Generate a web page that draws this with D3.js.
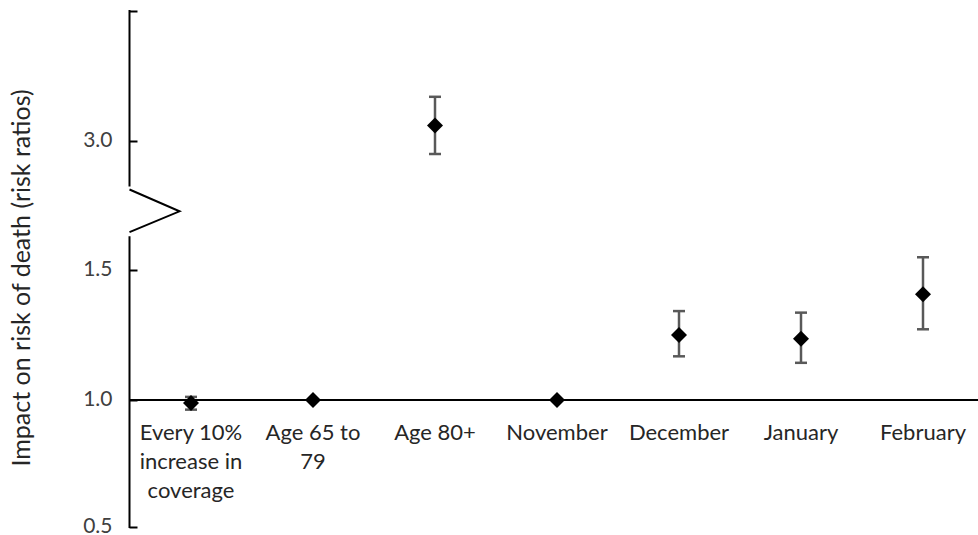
<!DOCTYPE html>
<html><head><meta charset="utf-8">
<script src="https://cdn.jsdelivr.net/npm/d3@7"></script>
<style>body{margin:0;background:#fff;} svg{display:block;}</style>
</head><body><svg id="c" width="978" height="535"></svg>
<script>
// ---- data ----
const categories = ["Every 10% increase in coverage", "Age 65 to 79", "Age 80+", "November", "December", "January", "February"];
const categoryLines = [["Every 10%", "increase in", "coverage"], ["Age 65 to", "79"], ["Age 80+"], ["November"], ["December"], ["January"], ["February"]];
const estimates = [0.988, 1.0, 3.06, 1.0, 1.25, 1.236, 1.407];
const ciLower  = [0.962, null, 2.95, null, 1.168, 1.143, 1.272];
const ciUpper  = [1.012, null, 3.17, null, 1.342, 1.336, 1.549];
const lowerTicks = [0.5, 1.0, 1.5];
const lowerTickLabels = ["0.5", "1.0", "1.5"];
const upperTicks = [3.0, 3.5];
const upperTickLabels = ["3.0", ""];
const yTitle = "Impact on risk of death (risk ratios)";

// ---- layout ----
const svg = d3.select("#c");
const font = "Lato, 'Open Sans', sans-serif";
const axisX = 129.5;

const x = d3.scaleBand().domain(categories).range([130, 984]);
const yLow = d3.scaleLinear().domain([0.5, 1.0, 1.5]).range([527, 400, 270]);
const yHigh = d3.scaleLinear().domain([3.0, 3.5]).range([141, 11]);
const y = v => (v > 2.2 ? yHigh(v) : yLow(v));
const lowTop = yLow(1.63), highBottom = yHigh(2.825);

// axes (ticks inward, labels left)
function drawAxis(scale, ticks, labels) {
  const ax = d3.axisLeft(scale).tickValues(ticks).tickSizeInner(-8).tickSizeOuter(0).tickPadding(17)
    .tickFormat((d, i) => labels[i]);
  const g = svg.append("g").attr("transform", `translate(${axisX},0)`).call(ax);
  g.select(".domain").remove();
  g.selectAll(".tick line").attr("stroke", "#000").attr("stroke-width", 2);
  g.selectAll(".tick text").attr("font-family", font).attr("font-size", 21).attr("fill", "#404040")
    .attr("dy", "0.25em");
}
drawAxis(yLow, lowerTicks, lowerTickLabels);
drawAxis(yHigh, upperTicks, upperTickLabels);

// axis segments with break
svg.append("line").attr("x1", axisX).attr("x2", axisX).attr("y1", yLow(0.5) + 1).attr("y2", lowTop)
  .attr("stroke", "#000").attr("stroke-width", 2);
svg.append("line").attr("x1", axisX).attr("x2", axisX).attr("y1", highBottom).attr("y2", yHigh(3.5) - 1)
  .attr("stroke", "#000").attr("stroke-width", 2);
const midBreak = (lowTop + highBottom) / 2;
svg.append("path")
  .attr("d", d3.line()([[axisX, lowTop - 4], [axisX + 50, midBreak], [axisX, highBottom + 3]]))
  .attr("fill", "none").attr("stroke", "#000").attr("stroke-width", 2);

// x baseline at 1.0
svg.append("line").attr("x1", axisX).attr("x2", 978).attr("y1", yLow(1.0)).attr("y2", yLow(1.0))
  .attr("stroke", "#000").attr("stroke-width", 2);

// category labels
const labG = svg.append("g");
categories.forEach((c, i) => {
  const t = labG.append("text").attr("x", x(c) + x.bandwidth() / 2).attr("y", 440)
    .attr("text-anchor", "middle").attr("font-family", font).attr("font-size", 22).attr("fill", "#262626");
  categoryLines[i].forEach((ln, j) => {
    t.append("tspan").attr("x", x(c) + x.bandwidth() / 2).attr("dy", j === 0 ? 0 : 29).text(ln);
  });
});

// y title
svg.append("text").attr("transform", `translate(30,278) rotate(-90)`)
  .attr("text-anchor", "middle").attr("font-family", font).attr("font-size", 25).attr("fill", "#262626")
  .text(yTitle);

// error bars
const eb = svg.append("g").attr("stroke", "#595959").attr("stroke-width", 2.5);
categories.forEach((c, i) => {
  if (ciLower[i] == null) return;
  const cx = x(c) + x.bandwidth() / 2;
  eb.append("line").attr("x1", cx).attr("x2", cx).attr("y1", y(ciLower[i])).attr("y2", y(ciUpper[i]));
  [ciLower[i], ciUpper[i]].forEach(v => {
    eb.append("line").attr("x1", cx - 6).attr("x2", cx + 6).attr("y1", y(v)).attr("y2", y(v));
  });
});

// markers
const sym = d3.symbol().type(d3.symbolSquare).size(128);
svg.append("g").selectAll("path").data(categories).join("path")
  .attr("d", sym)
  .attr("transform", (c, i) => `translate(${x(c) + x.bandwidth() / 2},${y(estimates[i])}) rotate(45)`)
  .attr("fill", "#000");
</script>
</body></html>
